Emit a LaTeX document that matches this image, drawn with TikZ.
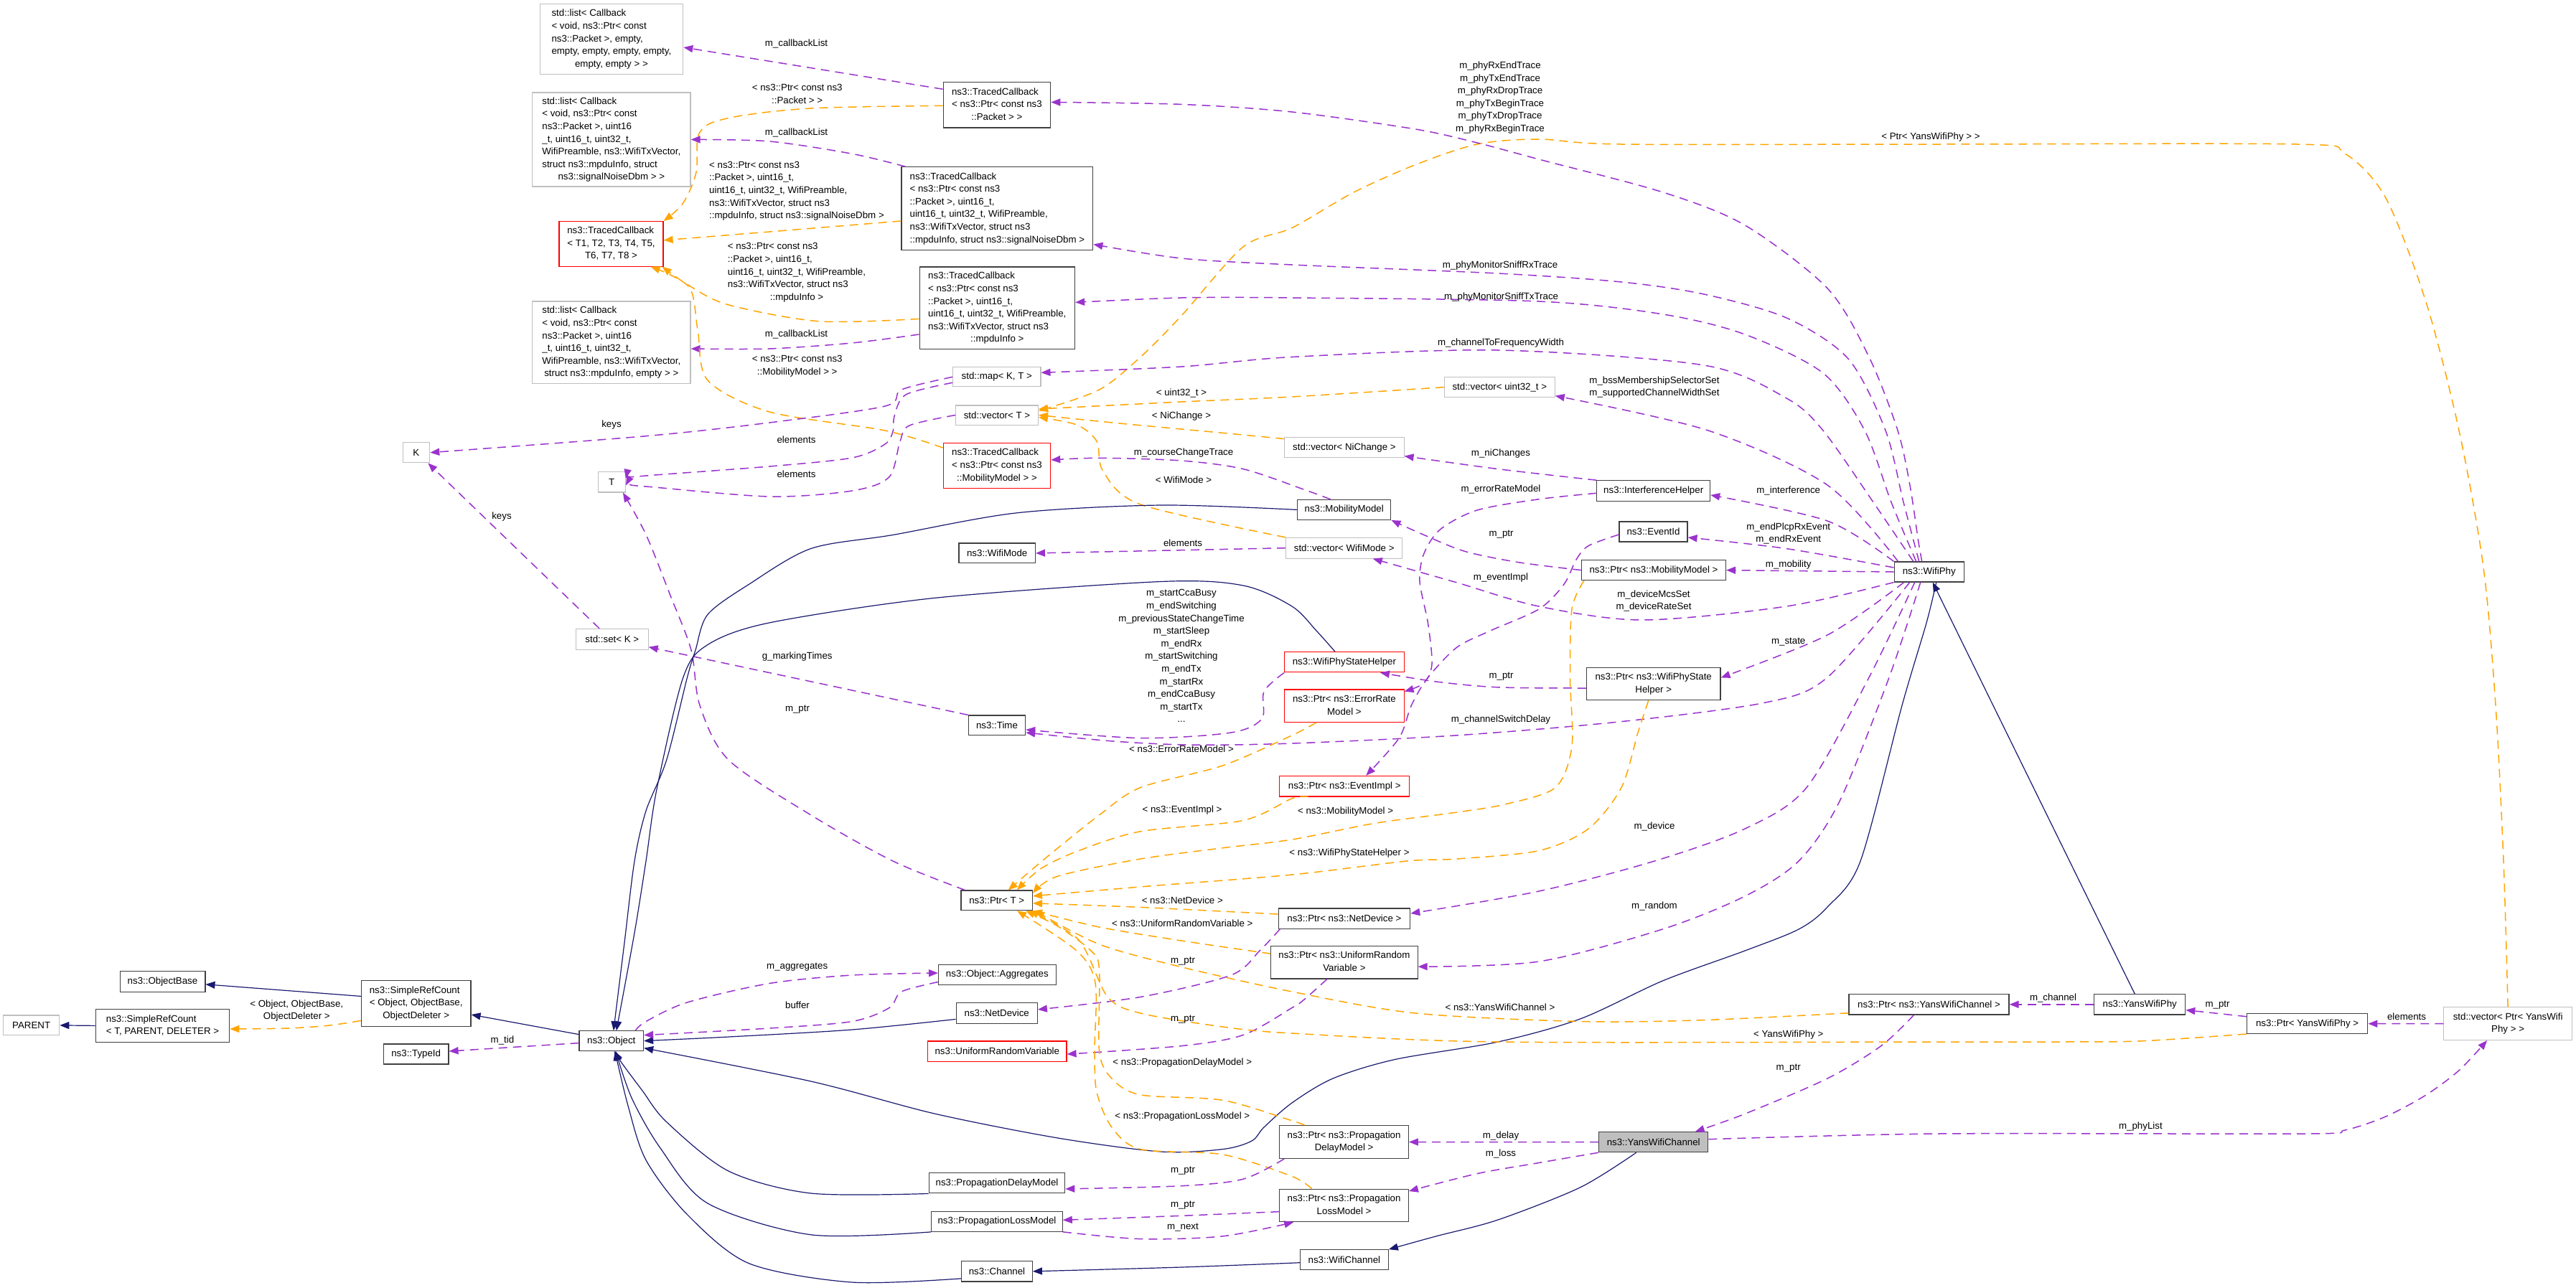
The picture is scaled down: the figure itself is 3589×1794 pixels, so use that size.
\documentclass[tikz,border=0pt]{standalone}
\usepackage{fontspec}
\setmainfont{Liberation Sans}
\usetikzlibrary{arrows.meta}
\definecolor{pcol}{HTML}{9A32CD}
\definecolor{ocol}{HTML}{FFA500}
\definecolor{icol}{HTML}{191970}
\definecolor{gcol}{HTML}{BFBFBF}
\newcommand{\dl}[2]{\begin{tabular}{@{}l@{}}#1\\\multicolumn{1}{@{}c@{}}{#2}\end{tabular}}
\begin{document}
\begin{tikzpicture}[x=1pt,y=-1pt,
  every node/.style={font=\fontsize{13.3pt}{17.6pt}\selectfont},
  cb/.style={draw=black!75, line width=1.1pt, rectangle, inner sep=0pt, fill=white},
  cg/.style={cb, draw=gcol},
  cr/.style={cb, draw=red},
  lbl/.style={inner sep=0pt, align=center},
  uE/.style={draw=pcol, line width=1.5pt, dash pattern=on 12pt off 8pt, line join=round, -{Triangle[length=13pt,width=10pt]}},
  tE/.style={draw=ocol, line width=1.5pt, dash pattern=on 12pt off 8pt, line join=round, -{Triangle[length=13pt,width=10pt]}},
  inE/.style={draw=icol, line width=1.2pt, line join=round, -{Triangle[length=13pt,width=10pt]}},
]
\fill[white] (0,0) rectangle (3589,1794);
\useasboundingbox (0,0) rectangle (3589,1794);

% ---------------- nodes ----------------
\node[cg,minimum width=199.7pt,minimum height=97.6pt] (A) at (851.9,54.5) {\dl{std::list< Callback\\< void, ns3::Ptr< const\\ns3::Packet >, empty,\\empty, empty, empty, empty,}{empty, empty > >}};
\node[cg,minimum width=220.4pt,minimum height=131pt] (B) at (851.8,194.5) {\dl{std::list< Callback\\< void, ns3::Ptr< const\\ns3::Packet >, uint16\\\_t, uint16\_t, uint32\_t,\\WifiPreamble, ns3::WifiTxVector,\\struct ns3::mpduInfo, struct}{ns3::signalNoiseDbm > >}};
\node[cr,minimum width=145pt,minimum height=62.5pt] (C) at (851.5,339.8) {\dl{ns3::TracedCallback\\< T1, T2, T3, T4, T5,}{T6, T7, T8 >}};
\node[cg,minimum width=220.4pt,minimum height=114.6pt] (D) at (851.8,477.3) {\dl{std::list< Callback\\< void, ns3::Ptr< const\\ns3::Packet >, uint16\\\_t, uint16\_t, uint32\_t,\\WifiPreamble, ns3::WifiTxVector,}{struct ns3::mpduInfo, empty > >}};
\node[cb,minimum width=149.7pt,minimum height=63.2pt] (E) at (1388.9,146.4) {\dl{ns3::TracedCallback\\< ns3::Ptr< const ns3}{::Packet > >}};
\node[cb,minimum width=266.8pt,minimum height=115.6pt] (F) at (1389.4,290.5) {\dl{ns3::TracedCallback\\< ns3::Ptr< const ns3\\::Packet >, uint16\_t,\\uint16\_t, uint32\_t, WifiPreamble,\\ns3::WifiTxVector, struct ns3}{::mpduInfo, struct ns3::signalNoiseDbm >}};
\node[cb,minimum width=216.5pt,minimum height=114.8pt] (G) at (1389.3,429.4) {\dl{ns3::TracedCallback\\< ns3::Ptr< const ns3\\::Packet >, uint16\_t,\\uint16\_t, uint32\_t, WifiPreamble,\\ns3::WifiTxVector, struct ns3}{::mpduInfo >}};
\node[cg,minimum width=122.3pt,minimum height=27.1pt] (H) at (1388.8,525.3) {std::map< K, T >};
\node[cg,minimum width=114.8pt,minimum height=27.1pt] (I) at (1389,578.5) {std::vector< T >};
\node[cg,minimum width=153.8pt,minimum height=28.4pt] (J) at (2089.3,539.6) {std::vector< uint32\_t >};
\node[cg,minimum width=37.7pt,minimum height=28.3pt] (K) at (579.9,630.7) {K};
\node[cg,minimum width=38.3pt,minimum height=28.2pt] (Tn) at (852.2,671.9) {T};
\node[cg,minimum width=100.5pt,minimum height=28.7pt] (set) at (852.8,890.7) {std::set< K >};
\node[cr,minimum width=149.3pt,minimum height=62.8pt] (L) at (1389,649) {\dl{ns3::TracedCallback\\< ns3::Ptr< const ns3}{::MobilityModel > >}};
\node[cb,minimum width=106.4pt,minimum height=27.9pt] (M) at (1389.2,770.9) {ns3::WifiMode};
\node[cb,minimum width=79.3pt,minimum height=27.9pt] (N) at (1389,1010.9) {ns3::Time};
\node[cg,minimum width=166.3pt,minimum height=27.9pt] (O) at (1872.9,623.6) {std::vector< NiChange >};
\node[cb,minimum width=157.8pt,minimum height=28.3pt] (P) at (2303.7,683.9) {ns3::InterferenceHelper};
\node[cb,minimum width=130.3pt,minimum height=28pt] (Q) at (1872.7,710.4) {ns3::MobilityModel};
\node[cb,minimum width=95pt,minimum height=28pt] (R) at (2303.5,741) {ns3::EventId};
\node[cg,minimum width=162.3pt,minimum height=28.7pt] (S) at (1872.7,763.7) {std::vector< WifiMode >};
\node[cb,minimum width=200.9pt,minimum height=28pt] (U) at (2304,794.6) {ns3::Ptr< ns3::MobilityModel >};
\node[cb,minimum width=97.3pt,minimum height=28pt] (V) at (2687.7,797) {ns3::WifiPhy};
\node[cr,minimum width=166.3pt,minimum height=28.3pt] (W) at (1872.9,922.7) {ns3::WifiPhyStateHelper};
\node[cb,minimum width=186.6pt,minimum height=45.5pt] (X) at (2303.7,953) {\dl{ns3::Ptr< ns3::WifiPhyState}{Helper >}};
\node[cr,minimum width=166.3pt,minimum height=45.5pt] (Y) at (1872.9,983.7) {\dl{ns3::Ptr< ns3::ErrorRate}{Model >}};
\node[cr,minimum width=180.8pt,minimum height=28.6pt] (Z) at (1873.2,1095.7) {ns3::Ptr< ns3::EventImpl >};
\node[cg,minimum width=78.1pt,minimum height=27.8pt] (PARENT) at (43.7,1428.9) {PARENT};
\node[cb,minimum width=118.9pt,minimum height=28.8pt] (OB) at (226.5,1367.8) {ns3::ObjectBase};
\node[cb,minimum width=186.5pt,minimum height=45.9pt] (SR1) at (226.5,1429.4) {\dl{ns3::SimpleRefCount}{< T, PARENT, DELETER >}};
\node[cb,minimum width=152.6pt,minimum height=63.3pt] (SR2) at (579.7,1398.4) {\dl{ns3::SimpleRefCount\\< Object, ObjectBase,}{ObjectDeleter >}};
\node[cb,minimum width=90.6pt,minimum height=28pt] (TI) at (579.7,1469) {ns3::TypeId};
\node[cb,minimum width=89.6pt,minimum height=27.6pt] (OBJ) at (851.8,1450.6) {ns3::Object};
\node[cb,minimum width=99.4pt,minimum height=27.7pt] (PT) at (1388.7,1254.8) {ns3::Ptr< T >};
\node[cb,minimum width=163.5pt,minimum height=28.4pt] (AG) at (1389.3,1358.5) {ns3::Object::Aggregates};
\node[cb,minimum width=113.3pt,minimum height=28.3pt] (ND) at (1388.7,1411.9) {ns3::NetDevice};
\node[cr,minimum width=193.4pt,minimum height=28.2pt] (URV) at (1389.3,1465.1) {ns3::UniformRandomVariable};
\node[cb,minimum width=189.5pt,minimum height=28pt] (PDM) at (1389,1648.9) {ns3::PropagationDelayModel};
\node[cb,minimum width=182.5pt,minimum height=28pt] (PLM) at (1389,1702.3) {ns3::PropagationLossModel};
\node[cb,minimum width=98.7pt,minimum height=28.4pt] (CH) at (1389,1771.8) {ns3::Channel};
\node[cb,minimum width=183.7pt,minimum height=28.1pt] (PND) at (1872.9,1280) {ns3::Ptr< ns3::NetDevice >};
\node[cb,minimum width=204.3pt,minimum height=45.8pt] (PURV) at (1872.9,1341.1) {\dl{ns3::Ptr< ns3::UniformRandom}{Variable >}};
\node[cb,minimum width=223pt,minimum height=28.4pt] (PYWC) at (2687.5,1399.8) {ns3::Ptr< ns3::YansWifiChannel >};
\node[cb,minimum width=179.6pt,minimum height=45.8pt] (PPDM) at (1872.6,1591.5) {\dl{ns3::Ptr< ns3::Propagation}{DelayModel >}};
\node[cb,fill=gcol,minimum width=152.1pt,minimum height=28pt] (YWC) at (2303.7,1591.7) {ns3::YansWifiChannel};
\node[cb,minimum width=179.6pt,minimum height=45.5pt] (PPLM) at (1872.6,1680) {\dl{ns3::Ptr< ns3::Propagation}{LossModel >}};
\node[cb,minimum width=122.8pt,minimum height=28pt] (WC) at (1872.9,1755.7) {ns3::WifiChannel};
\node[cb,minimum width=127pt,minimum height=28.4pt] (YWP) at (2981.2,1399.8) {ns3::YansWifiPhy};
\node[cb,minimum width=168.4pt,minimum height=27.6pt] (PYWP) at (3214.6,1426.7) {ns3::Ptr< YansWifiPhy >};
\node[cg,minimum width=178.6pt,minimum height=45.5pt] (VYWP) at (3494.1,1426.6) {\dl{std::vector< Ptr< YansWifi}{Phy > >}};

% ---------------- edges ----------------
\draw[uE] ([yshift=-10pt]E.north west) -- ([yshift=-11.5pt]A.east);
\draw[tE] plot[smooth,tension=.55] coordinates {([yshift=-1pt]E.west) (1129.6,151) (1014.8,164.6) (974.6,185) (970,240) (951.7,283) (C.north east)};
\draw[uE] plot[smooth,tension=.5] coordinates {([xshift=6pt]F.north west) (1187,214.3) (1072,197) (B.east)};
\draw[tE] plot[smooth,tension=.5] coordinates {([yshift=-17.5pt]F.west) (1072,323) ([yshift=5pt]C.east)};
\draw[tE] plot[smooth,tension=.5] coordinates {([yshift=-15pt]G.west) (1141,447.8) (1014.8,424.8) (960,398) ([xshift=-2pt]C.south east)};
\draw[uE] plot[smooth,tension=.5] coordinates {([yshift=-36.6pt]G.west) (1187,478) (1072,486) ([yshift=-8.7pt]D.east)};
\draw[tE] plot[smooth,tension=.5] coordinates {([yshift=-7pt]L.north west) (1233,600) (1072,574) (986,530) (972,459) (960,400) ([xshift=-18pt]C.south east)};
\draw[uE] plot[smooth,tension=.5] coordinates {(H.west) (1256,543) (1233,566) (1072,589) (900,607.7) (K.east)};
\draw[uE] plot[smooth,tension=.5] coordinates {([yshift=-8pt]H.west) (1262,550) (1246,580) (1244.4,600) (1233,619) (1187,638) (1072,650) (900,663) ([yshift=5pt]Tn.east)};
\draw[uE] plot[smooth,tension=.5] coordinates {(I.west) (1267,593) (1254,615) (1238.6,665) (1187,684) (1072,692) (900,678) ([yshift=-4.6pt]Tn.east)};
\draw[uE] ([xshift=-17.8pt]set.north) -- ([xshift=-3pt]K.south east);
\draw[uE] plot[smooth,tension=.5] coordinates {([xshift=6pt]PT.north west) (1244,1200) (1130,1136) (1015,1059) (975,983) (963,906) (934,830) (900,745) ([xshift=-4pt]Tn.south east)};
\draw[uE] (N.north west) -- ([yshift=-11pt]set.east);
\draw[tE] plot[smooth,tension=.5] coordinates {(J.west) (1800,553) (1646,560) ([yshift=8.5pt]I.east)};
\draw[tE] plot[smooth,tension=.5] coordinates {([yshift=12pt]O.west) (1700,603) (1560,590) (I.east)};
\draw[tE] plot[smooth,tension=.5] coordinates {(S.north west) (1589,703) (1537,657) (1528,615) (1500,592) ([yshift=-3pt]I.east)};
\draw[tE] plot[smooth,tension=.5] coordinates {(VYWP.north) (3488,1200) (3477,983) (3460,791) (3426,600) (3380,421) (3323.7,275.5) (3267,214) (3200,201) (2700,201) (2259,201) (2144,194) (2058,201) (1972,229.6) (1886,268) (1800,317.6) (1732,344) (1646,440) (1589,497.5) (1531,543.4) ([yshift=6pt]I.east)};
\draw[uE] (S.west) -- (M.east);
\draw[uE] plot[smooth,tension=.5] coordinates {([xshift=-10pt]V.north) (2672.5,753) (2661,676.5) (2644,600) (2604,497.5) (2546,401.8) (2431,313.8) (2317,268) (2144,222) (2058,199) (1972,180) (1800,156) (1646,145.4) ([yshift=4pt]E.east)};
\draw[uE] plot[smooth,tension=.5] coordinates {([xshift=-14pt]V.north) (2652,700) (2627,600) (2575,500) (2489,443) (2374,410) (2259,393) (2087,381) (1800,369) (1646,360) ([yshift=-50pt]F.east)};
\draw[uE] plot[smooth,tension=.5] coordinates {([xshift=-18pt]V.north) (2635,700) (2598,600) (2540,520) (2431,466) (2317,438) (2144,420) (1800,415) (1646,415) ([yshift=8pt]G.east)};
\draw[uE] plot[smooth,tension=.5] coordinates {([xshift=-22pt]V.north) (2610,700) (2540,600) (2489,555) (2374,509) (2087,488) (1800,497.5) (1646,511) ([yshift=6pt]H.east)};
\draw[uE] plot[smooth,tension=.5] coordinates {([xshift=6pt]V.north west) (2546,676) (2380,600) ([yshift=-12pt]J.east)};
\draw[uE] plot[smooth,tension=.5] coordinates {(V.north west) (2546,726) ([yshift=-6pt]P.east)};
\draw[uE] plot[smooth,tension=.5] coordinates {([yshift=6pt]V.west) (2489,764.6) ([yshift=-8pt]R.east)};
\draw[uE] (V.west) -- (U.east);
\draw[uE] plot[smooth,tension=.5] coordinates {(V.south west) (2489,845) (2288,864) (2144,845) (2030,812) ([xshift=40pt]S.south)};
\draw[uE] plot[smooth,tension=.5] coordinates {([xshift=-35pt]V.south) (2546,885) ([yshift=8.6pt]X.east)};
\draw[uE] plot[smooth,tension=.5] coordinates {([xshift=-27pt]V.south) (2546,944) (2460,979) (2259,1005.6) (2030,1024.8) (1800,1036) (1656,1038) (1546,1032.6) ([yshift=-10pt]N.east)};
\draw[uE] plot[smooth,tension=.5] coordinates {(W.south west) (1761,963.6) (1758,1001.8) (1715,1021) (1589,1028.6) ([yshift=-6pt]N.east)};
\draw[uE] plot[smooth,tension=.5] coordinates {([xshift=-20pt]V.south) (2604,944) (2517,1097.5) (2431,1155) (2305,1200) (2144,1242) ([yshift=7pt]PND.east)};
\draw[uE] plot[smooth,tension=.5] coordinates {([xshift=-12pt]V.south) (2632,944) (2563,1116.6) (2506,1200) (2431,1249) (2317,1294.7) (2144,1340) ([yshift=-6pt]PURV.east)};
\draw[inE] ([xshift=-7pt]YWP.north) -- ([xshift=5pt]V.south);
\draw[inE] plot[smooth,tension=.5] coordinates {([xshift=10pt]V.south) (2684,868) (2650,983) (2592,1200) (2546,1264) (2506,1295) (2431,1325) (2317,1366.7) (2202,1419.8) (2087,1452) (1943.5,1476.5) (1857,1503) (1800,1537) (1761,1571) (1744,1590) (1704,1601.5) (1617.5,1605) (1474,1586) (1302,1552) (1130,1507) ([yshift=-10pt]OBJ.east)};
\draw[inE] plot[smooth,tension=.5] coordinates {(Q.west) (1617.5,704) (1416.6,714.8) (1244.4,745.4) (1129.6,764.6) (1043.5,814.3) (986,856.4) (969,906) (957.4,944.4) (928.7,1059) (900,1130) (884,1200) (870,1313.6) ([xshift=3pt]OBJ.north)};
\draw[inE] plot[smooth,tension=.5] coordinates {([xshift=-13pt]W.north) (1834.4,879.4) (1800,845) (1732,816) (1617.5,810.5) (1302,833.4) (1072,867.9) (986,898.5) (951.7,944.4) (915,1100) (900,1200) (884,1300) ([xshift=7pt]OBJ.north)};
\draw[inE] plot[smooth,tension=.5] coordinates {([yshift=-8.5pt]ND.west) (1187,1435) (1015,1445) (OBJ.east)};
\draw[inE] plot[smooth,tension=.5] coordinates {(PDM.south west) (1130,1663) (1015,1632) (928.7,1563.6) (895,1520) (866.7,1482) ([xshift=4pt]OBJ.south)};
\draw[inE] plot[smooth,tension=.5] coordinates {(PLM.south west) (1130,1720.8) (986,1677) (920,1600) (880,1530) ([xshift=6pt]OBJ.south)};
\draw[inE] plot[smooth,tension=.5] coordinates {([yshift=-10pt]CH.west) (1187,1787) (1043.5,1760.7) (957.4,1692.5) (900,1616.7) (875,1541) ([xshift=5pt]OBJ.south)};
\draw[inE] ([yshift=9pt]OBJ.west) -- ([yshift=-15.6pt]SR2.east);
\draw[inE] ([yshift=10pt]SR2.west) -- ([yshift=-4pt]OB.east);
\draw[tE] plot[smooth,tension=.5] coordinates {([yshift=-24pt]SR2.west) (459,1429) (402,1433) ([yshift=-4.6pt]SR1.east)};
\draw[inE] (SR1.west) -- (PARENT.east);
\draw[uE] ([yshift=-3pt]OBJ.west) -- ([yshift=4pt]TI.east);
\draw[uE] plot[smooth,tension=.5] coordinates {([xshift=-12pt]OBJ.north east) (900,1423.5) (957.4,1397) (1072,1370.5) (1187,1359) ([yshift=2.5pt]AG.west)};
\draw[uE] plot[smooth,tension=.5] coordinates {([yshift=-10pt]AG.west) (1256,1382) (1239,1404.5) (1187,1423.5) (1072,1433) ([yshift=8pt]OBJ.east)};
\draw[tE] plot[smooth,tension=.5] coordinates {([yshift=6pt]PND.west) (1589,1264.4) ([yshift=-4pt]PT.east)};
\draw[tE] plot[smooth,tension=.5] coordinates {([yshift=12pt]PURV.west) (1646,1311) (1531.6,1292) (PT.south east)};
\draw[uE] plot[smooth,tension=.5] coordinates {([xshift=3pt]PND.south west) (1755,1325) (1715,1359) (1589,1389.4) ([yshift=5pt]ND.east)};
\draw[uE] plot[smooth,tension=.5] coordinates {([xshift=-24pt]PURV.south) (1817,1393) (1800,1404.5) (1732,1442.4) (1646,1457.6) ([yshift=-4pt]URV.east)};
\draw[tE] plot[smooth,tension=.5] coordinates {([yshift=-12pt]PYWC.west) (2374,1421.6) (2202,1423.5) (1972,1412) (1800,1382) (1646,1347.7) (1531.6,1316) ([xshift=3pt]PT.south east)};
\draw[tE] plot[smooth,tension=.5] coordinates {(PYWP.south west) (2983.5,1450.8) (2870,1452) (2700,1452) (2087,1452) (1800,1440) (1703.6,1431) (1589,1412) (1543,1389) (1503,1310) ([xshift=-5pt]PT.south east)};
\draw[tE] plot[smooth,tension=.5] coordinates {([xshift=-55pt]PPDM.north) (1800,1561.8) (1703.6,1533.3) (1589,1525.8) (1549,1503) (1531.6,1465) (1531.6,1351.5) (1520,1325) (1474,1291) ([xshift=-10pt]PT.south east)};
\draw[tE] plot[smooth,tension=.5] coordinates {([xshift=-45pt]PPLM.north) (1800,1639.4) (1703.6,1609) (1589,1601.6) (1549,1571) (1528,1522) (1525,1465) (1526,1370) (1500,1325) ([xshift=-22pt]PT.south east)};
\draw[tE] plot[smooth,tension=.5] coordinates {([xshift=4pt]U.south west) (2190,848.7) (2187.5,944.4) (2190,1040) (2167,1097.5) (2098.5,1120.5) (2030,1132) (1915,1147.4) (1800,1170) (1703.6,1181.7) (1589,1197) (1474,1221) ([yshift=10pt]PT.east)};
\draw[tE] plot[smooth,tension=.5] coordinates {([xshift=-7pt]X.south) (2282,1021) (2259,1097.5) (2213,1155) (2144,1185.5) (2030,1197) (1960,1200) (1800,1219) (1600,1235) ([yshift=6pt]PT.east)};
\draw[tE] plot[smooth,tension=.5] coordinates {([xshift=-39pt]Y.south) (1800,1024.8) (1703.6,1066.9) (1589,1097.5) (1531.6,1135.8) (1474,1181.7) (1440,1210) ([xshift=16pt]PT.north)};
\draw[tE] plot[smooth,tension=.5] coordinates {([xshift=-50pt]Z.south) (1800,1112.8) (1732,1143.4) (1589,1158.7) (1503,1185.5) (1451,1210) ([xshift=28pt]PT.north)};
\draw[uE] plot[smooth,tension=.5] coordinates {([yshift=-3.4pt]P.west) (2144,695.7) (2058,711) (2006.6,737.8) (1983.7,772) (1978,810.5) (1989.4,868) (1995,925.3) (1983.7,952) ([yshift=20pt]Y.east)};
\draw[uE] plot[smooth,tension=.5] coordinates {(P.north west) (2087,653.6) ([yshift=-12pt]O.east)};
\draw[uE] plot[smooth,tension=.5] coordinates {([yshift=-4pt]R.west) (2213,760.7) (2196,780) (2179,814.3) (2144.4,848.7) (2075.5,879.4) (2029.6,902.3) (1989.4,944.4) (1966.5,982.7) (1949.2,1028.6) ([xshift=30pt]Z.north)};
\draw[uE] plot[smooth,tension=.5] coordinates {(U.west) (2115.7,783.7) (2041,768.4) (1983.7,745.4) (Q.south east)};
\draw[uE] plot[smooth,tension=.5] coordinates {([yshift=-6pt]X.west) (2087,957.8) (2001,950) ([xshift=50pt]W.south)};
\draw[uE] plot[smooth,tension=.5] coordinates {([xshift=-19pt]Q.north) (1817,682.3) (1732,653.6) (1646,642) (1531.6,638.3) ([yshift=8pt]L.east)};
\draw[uE] plot[smooth,tension=.5] coordinates {([xshift=-21pt]PYWC.south) (2620.8,1457.6) (2546,1503) (2431,1552.3) ([xshift=58pt]YWC.north)};
\draw[uE] plot[smooth,tension=.5] coordinates {([yshift=4pt]YWC.east) (2700,1580) (3210,1580) (3267,1575) (3324,1556) (3380,1526) (3426,1491.7) ([xshift=-29pt]VYWP.south)};
\draw[uE] (YWC.west) -- (PPDM.east);
\draw[uE] plot[smooth,tension=.5] coordinates {(YWC.south west) (2144,1620.5) (2058,1635.6) ([yshift=20pt]PPLM.east)};
\draw[inE] plot[smooth,tension=.5] coordinates {([xshift=-24pt]YWC.south) (2202,1654.6) (2087,1700) (2001,1722.8) (WC.north east)};
\draw[inE] plot[smooth,tension=.5] coordinates {([yshift=-4pt]WC.west) (1646,1766) (CH.east)};
\draw[uE] plot[smooth,tension=.5] coordinates {([xshift=7pt]PPDM.south west) (1732,1643.2) (1646,1652.7) ([yshift=-8pt]PDM.east)};
\draw[uE] plot[smooth,tension=.5] coordinates {([yshift=-8.6pt]PPLM.west) (1646,1694.3) ([yshift=2pt]PLM.east)};
\draw[uE] plot[smooth,tension=.5] coordinates {(PLM.south east) (1589,1726.6) (1703.6,1722.8) ([xshift=20pt]PPLM.south west)};
\draw[uE] (YWP.west) -- (PYWC.east);
\draw[uE] ([yshift=10pt]PYWP.west) -- ([yshift=-7.8pt]YWP.east);
\draw[uE] (VYWP.west) -- (PYWP.east);

% ---------------- labels ----------------
\node[lbl] (l1) at (1109.5,60.5) {m\_callbackList};
\node[lbl] (l2) at (1110.7,132) {\dl{< ns3::Ptr< const ns3}{::Packet > >}};
\node[lbl] (l3) at (1109.5,184.5) {m\_callbackList};
\node[lbl] (l4) at (1110,266) {\dl{< ns3::Ptr< const ns3\\::Packet >, uint16\_t,\\uint16\_t, uint32\_t, WifiPreamble,\\ns3::WifiTxVector, struct ns3}{::mpduInfo, struct ns3::signalNoiseDbm >}};
\node[lbl] (l5) at (1110,379.6) {\dl{< ns3::Ptr< const ns3\\::Packet >, uint16\_t,\\uint16\_t, uint32\_t, WifiPreamble,\\ns3::WifiTxVector, struct ns3}{::mpduInfo >}};
\node[lbl] (l6) at (1109.5,466) {m\_callbackList};
\node[lbl] (l7) at (1110.7,509.8) {\dl{< ns3::Ptr< const ns3}{::MobilityModel > >}};
\node[lbl] (l8) at (1646,548) {< uint32\_t >};
\node[lbl] (l9) at (1646,580.5) {< NiChange >};
\node[lbl] (l10) at (2090,136) {m\_phyRxEndTrace\\m\_phyTxEndTrace\\m\_phyRxDropTrace\\m\_phyTxBeginTrace\\m\_phyTxDropTrace\\m\_phyRxBeginTrace};
\node[lbl] (l11) at (2690,191.3) {< Ptr< YansWifiPhy > >};
\node[lbl] (l12) at (2090,370.5) {m\_phyMonitorSniffRxTrace};
\node[lbl] (l13) at (2091.6,414.5) {m\_phyMonitorSniffTxTrace};
\node[lbl] (l14) at (2091,478.4) {m\_channelToFrequencyWidth};
\node[lbl] (l15) at (2305,539.6) {m\_bssMembershipSelectorSet\\m\_supportedChannelWidthSet};
\node[lbl] (l16) at (852,592) {keys};
\node[lbl] (l17) at (1109.5,612.6) {elements};
\node[lbl] (l18) at (1109.5,660.5) {elements};
\node[lbl] (l19) at (699,720.5) {keys};
\node[lbl] (l20) at (1649,630.6) {m\_courseChangeTrace};
\node[lbl] (l21) at (1649,668.9) {< WifiMode >};
\node[lbl] (l22) at (1648,756.9) {elements};
\node[lbl] (l23) at (2091,632.5) {m\_niChanges};
\node[lbl] (l24) at (2091,682.3) {m\_errorRateModel};
\node[lbl] (l25) at (2491.7,684.2) {m\_interference};
\node[lbl] (l26) at (2491.7,743.5) {m\_endPlcpRxEvent\\m\_endRxEvent};
\node[lbl] (l27) at (2091.6,744.7) {m\_ptr};
\node[lbl] (l28) at (2491.7,786.8) {m\_mobility};
\node[lbl] (l29) at (2091,804.7) {m\_eventImpl};
\node[lbl] (l30) at (2304,837.3) {m\_deviceMcsSet\\m\_deviceRateSet};
\node[lbl] (l31) at (2491.7,894.7) {m\_state};
\node[lbl] (l32) at (2091.6,942.9) {m\_ptr};
\node[lbl] (l33) at (2091,1002.6) {m\_channelSwitchDelay};
\node[lbl] (l34) at (1646,914.2) {m\_startCcaBusy\\m\_endSwitching\\m\_previousStateChangeTime\\m\_startSleep\\m\_endRx\\m\_startSwitching\\m\_endTx\\m\_startRx\\m\_endCcaBusy\\m\_startTx\\...};
\node[lbl] (l35) at (1110.7,914.6) {g\_markingTimes};
\node[lbl] (l36) at (1111,988.8) {m\_ptr};
\node[lbl] (l37) at (1646,1044) {< ns3::ErrorRateModel >};
\node[lbl] (l38) at (1647,1128.9) {< ns3::EventImpl >};
\node[lbl] (l39) at (1874.6,1130.8) {< ns3::MobilityModel >};
\node[lbl] (l40) at (2305,1152) {m\_device};
\node[lbl] (l41) at (1880,1189.4) {< ns3::WifiPhyStateHelper >};
\node[lbl] (l42) at (1647.3,1255) {< ns3::NetDevice >};
\node[lbl] (l43) at (2305,1262.5) {m\_random};
\node[lbl] (l44) at (1647.3,1286.7) {< ns3::UniformRandomVariable >};
\node[lbl] (l45) at (1648,1340) {m\_ptr};
\node[lbl] (l46) at (1110.7,1347.7) {m\_aggregates};
\node[lbl] (l47) at (1111,1400.8) {buffer};
\node[lbl] (l48) at (2090,1403.8) {< ns3::YansWifiChannel >};
\node[lbl] (l49) at (1648,1420.8) {m\_ptr};
\node[lbl] (l50) at (2491.7,1442.4) {< YansWifiPhy >};
\node[lbl] (l51) at (413.3,1408.3) {\dl{< Object, ObjectBase,}{ObjectDeleter >}};
\node[lbl] (l52) at (700,1450) {m\_tid};
\node[lbl] (l53) at (1647.3,1480.7) {< ns3::PropagationDelayModel >};
\node[lbl] (l54) at (2491.7,1488.6) {m\_ptr};
\node[lbl] (l55) at (1647.3,1555.7) {< ns3::PropagationLossModel >};
\node[lbl] (l56) at (2982.4,1570.5) {m\_phyList};
\node[lbl] (l57) at (2091,1582.6) {m\_delay};
\node[lbl] (l58) at (2091,1607.6) {m\_loss};
\node[lbl] (l59) at (1648,1631.8) {m\_ptr};
\node[lbl] (l60) at (1648,1680) {m\_ptr};
\node[lbl] (l61) at (1648,1710.6) {m\_next};
\node[lbl] (l62) at (2860.5,1390.5) {m\_channel};
\node[lbl] (l63) at (3089.5,1400.8) {m\_ptr};
\node[lbl] (l64) at (3353,1416.7) {elements};
\end{tikzpicture}
\end{document}
